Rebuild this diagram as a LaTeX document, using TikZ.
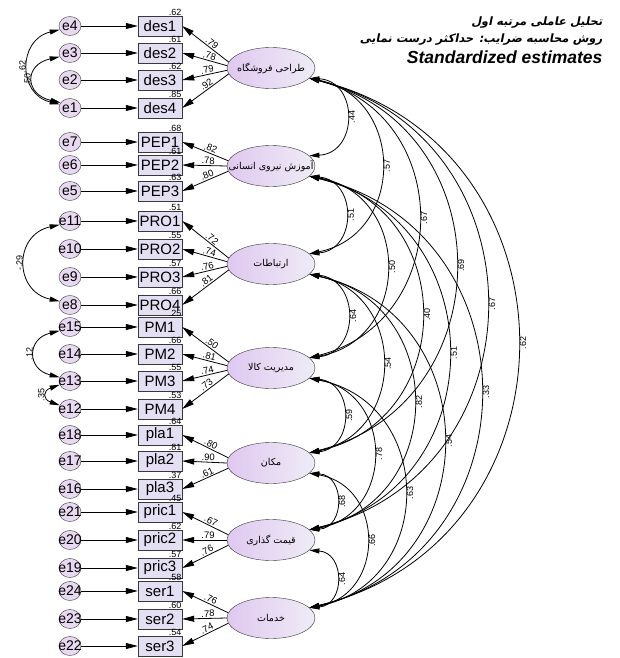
\documentclass[tikz,border=0pt]{standalone}
\usepackage{fontspec}
\setmainfont{Liberation Sans}
\newfontfamily\arabicfont[Script=Arabic]{DejaVu Sans}
\newfontfamily\arabictitle[Script=Arabic,FakeSlant=0.2]{DejaVu Sans}
\TeXXeTstate=1
\usetikzlibrary{arrows.meta,shapes.geometric}
\definecolor{ErrFill}{RGB}{232,216,240}
\definecolor{ObsFill}{RGB}{228,223,242}
\definecolor{LatLeft}{RGB}{224,200,240}
\definecolor{LatRight}{RGB}{238,236,246}
\definecolor{Edge}{RGB}{55,55,60}

\begin{document}
\begin{tikzpicture}[x=1pt,y=-1pt,
  err/.style={draw=Edge, fill=ErrFill, ellipse, minimum width=22pt, minimum height=19pt, inner sep=0pt, font=\fontsize{14}{14}\selectfont},
  obs/.style={draw=Edge, fill=ObsFill, minimum width=44pt, minimum height=20pt, inner sep=0pt, font=\fontsize{15}{15}\selectfont},
  lat/.style={draw=Edge, ellipse, left color=LatLeft, right color=LatRight, minimum width=88pt, minimum height=41pt, inner sep=0pt, font=\fontsize{9.5}{10}\arabicfont},
  regarrow/.style={line width=0.8pt, -{Triangle[length=12pt,width=6pt]}},
  covarrow/.style={line width=0.8pt, {Triangle[length=10pt,width=5pt]}-{Triangle[length=10pt,width=5pt]}},
  loadlab/.style={sloped, above, pos=0.42, inner sep=1pt, font=\fontsize{9.5}{10}\selectfont},
  rsqlab/.style={anchor=south east, inner sep=0.5pt, font=\fontsize{9}{10}\selectfont},
  covlab/.style={midway, rotate=90, inner sep=2pt, font=\fontsize{9}{10}\selectfont}]

  \fill[white] (0,0) rectangle (619,658);
  \useasboundingbox (0,0) rectangle (619,658);

  % title
  \node[anchor=east, font=\fontsize{11.5}{12}\arabictitle\bfseries] (t1) at (606,23) {\beginR تحلیل عاملی مرتبه اول\endR};
  \node[anchor=east, font=\fontsize{11.5}{12}\arabictitle\bfseries] (t2) at (606,40) {\beginR روش محاسبه ضرایب: حداکثر درست نمایی\endR};
  \node[anchor=east, font=\fontsize{17.5}{18}\bfseries\itshape] (t3) at (606,57) {Standardized estimates};

  % latent factors
  \node[lat] (L1) at (271,68) {\makebox[0pt]{\beginR طراحی فروشگاه\endR}};
  \node[lat] (L2) at (271,166) {\makebox[0pt]{\beginR آموزش نیروی انسانی\endR}};
  \node[lat] (L3) at (271,264) {\makebox[0pt]{\beginR ارتباطات\endR}};
  \node[lat] (L4) at (271,368) {\makebox[0pt]{\beginR مدیریت کالا\endR}};
  \node[lat] (L5) at (271,463) {\makebox[0pt]{\beginR مکان\endR}};
  \node[lat] (L6) at (271,540) {\makebox[0pt]{\beginR قیمت گذاری\endR}};
  \node[lat] (L7) at (271,618) {\makebox[0pt]{\beginR خدمات\endR}};

  % indicators and their errors
  \foreach \v/\e/\y in {des1/e4/26, des2/e3/53, des3/e2/80, des4/e1/108,
      PEP1/e7/142, PEP2/e6/165, PEP3/e5/191,
      PRO1/e11/221, PRO2/e10/249, PRO3/e9/277, PRO4/e8/305,
      PM1/e15/327, PM2/e14/354, PM3/e13/381, PM4/e12/409,
      pla1/e18/435, pla2/e17/461, pla3/e16/489,
      pric1/e21/512, pric2/e20/540, pric3/e19/568,
      ser1/e24/591, ser2/e23/619, ser3/e22/646} {
    \node[err] (\e) at (70,\y) {\makebox[0pt]{\e}};
    \node[obs] (\v) at (160,\y) {\v};
    \draw[regarrow] (\e) -- (\v);
  }

  % loadings and squared multiple correlations
  \foreach \v/\l/\a/\w/\r in {des1/L1/172/.79/.62, des2/L1/177/.78/.61, des3/L1/183/.79/.62, des4/L1/188/.92/.85,
      PEP1/L2/173/.82/.68, PEP2/L2/180/.78/.61, PEP3/L2/187/.80/.63,
      PRO1/L3/172/.72/.51, PRO2/L3/177/.74/.55, PRO3/L3/183/.76/.57, PRO4/L3/188/.81/.66,
      PM1/L4/172/.50/.25, PM2/L4/177/.81/.66, PM3/L4/183/.74/.55, PM4/L4/188/.73/.53,
      pla1/L5/173/.80/.64, pla2/L5/180/.90/.81, pla3/L5/187/.61/.37,
      pric1/L6/173/.67/.45, pric2/L6/180/.79/.62, pric3/L6/187/.76/.57,
      ser1/L7/173/.76/.58, ser2/L7/180/.78/.60, ser3/L7/187/.74/.54} {
    \draw[regarrow] (\l.\a) -- node[loadlab] {\w} (\v.east);
    \node[rsqlab] at (\v.north east) {\r};
  }

  % error covariances
  \draw[covarrow] (e4.200) .. controls +(-42,10) and +(-42,-10) .. node[covlab, anchor=south] {.62} (e1.160);
  \draw[covarrow] (e3.200) .. controls +(-36,8) and +(-36,-8) .. node[covlab, anchor=south] {.50} (e1.150);
  \draw[covarrow] (e11.200) .. controls +(-46,10) and +(-46,-10) .. node[covlab, anchor=south] {-.29} (e8.160);
  \draw[covarrow] (e15.200) .. controls +(-33,8) and +(-33,-8) .. node[covlab, anchor=south] {.12} (e13.160);
  \draw[covarrow] (e13.200) .. controls +(-17,6) and +(-17,-6) .. node[covlab, anchor=south] {.35} (e12.160);

  % factor covariances
  \def\laty{{0,68,166,264,368,463,540,618}}
  \foreach \i/\j/\lab/\mx in {1/2/.44/346, 2/3/.51/345, 3/4/.64/347, 4/5/.59/343, 5/6/.68/336, 6/7/.64/336,
      1/3/.57/381, 2/4/.50/386, 3/5/.54/382, 4/6/.78/373, 5/7/.66/366,
      1/4/.67/418, 2/5/.40/421, 3/6/.82/413, 4/7/.63/404,
      1/5/.69/455, 2/6/.51/448, 3/7/.54/443,
      1/6/.67/486, 2/7/.33/480, 1/7/.62/517} {
    \pgfmathsetmacro\covC{\laty[\j]-\laty[\i]-20}
    \pgfmathsetmacro\covh{\mx-309}
    \pgfmathsetmacro\covk{\covh/0.75}
    \pgfmathsetmacro\covm{\covk*tan(90-2*atan(2*\covh/\covC))}
    \draw[covarrow] (L\i.-15) .. controls +(\covk,\covm) and +(\covk,-\covm) .. node[covlab, anchor=north] {\lab} (L\j.15);
  }
\end{tikzpicture}
\end{document}
